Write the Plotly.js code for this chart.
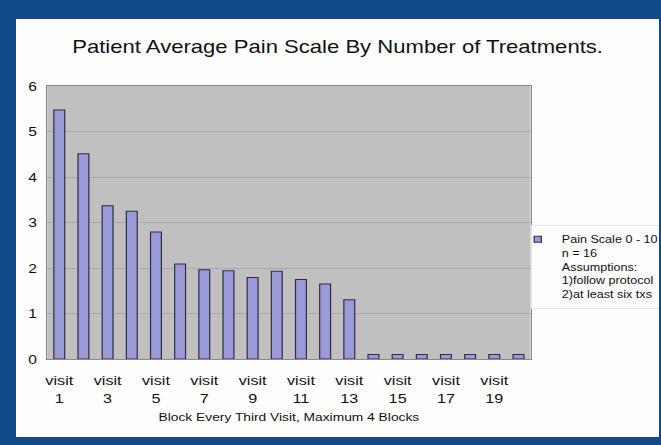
<!DOCTYPE html>
<html><head><meta charset="utf-8">
<script src="https://cdn.plot.ly/plotly-3.0.1.min.js"></script>
<style>
html,body{margin:0;padding:0;background:#114a87;width:661px;height:445px;overflow:hidden;}
#frame{position:absolute;left:16px;top:19px;width:643px;height:418px;background:#fefefe;overflow:hidden;}
#chart{position:absolute;left:0;top:0;width:536px;height:418px;transform:scaleX(1.2);transform-origin:0 0;}
</style></head><body><div id="frame"><div id="chart"></div></div>
<script>
const visits = ['visit 1','visit 2','visit 3','visit 4','visit 5','visit 6','visit 7','visit 8','visit 9','visit 10',
                'visit 11','visit 12','visit 13','visit 14','visit 15','visit 16','visit 17','visit 18','visit 19','visit 20'];
const painScale = [5.47, 4.51, 3.37, 3.25, 2.79, 2.09, 1.96, 1.94, 1.79, 1.93,
                   1.75, 1.65, 1.30, 0.10, 0.10, 0.10, 0.10, 0.10, 0.10, 0.10];
const tickVisits = ['visit 1','visit 3','visit 5','visit 7','visit 9','visit 11','visit 13','visit 15','visit 17','visit 19'];
const tickLabels = ['visit<br>1','visit<br>3','visit<br>5','visit<br>7','visit<br>9','visit<br>11','visit<br>13','visit<br>15','visit<br>17','visit<br>19'];
const yTicks = [0, 1, 2, 3, 4, 5, 6];
const legendLabel = 'Pain Scale 0 - 10<br>n = 16<br>Assumptions:<br>1)follow protocol<br>2)at least six txs';
const chartTitle = 'Patient Average Pain Scale By Number of Treatments.';
const xTitle = 'Block Every Third Visit, Maximum 4 Blocks';

const barColor = '#9a9ad8';
const barLine = '#2e2e40';
const font = 'Arial, "Liberation Sans", Helvetica, sans-serif';

const traces = [
  {type:'bar', x:visits, y:painScale, showlegend:false,
   marker:{color:barColor, line:{color:barLine, width:1}}},
  {type:'scatter', mode:'markers', x:[null], y:[null], name:legendLabel, showlegend:true,
   marker:{symbol:'square', size:6, color:barColor, line:{color:barLine, width:1}}}
];

const layout = {
  width:536, height:418,
  margin:{l:26, r:104, t:67, b:78, pad:0},
  paper_bgcolor:'#fefefe', plot_bgcolor:'#c0c0c0',
  font:{family:font, color:'#111'},
  title:{text:chartTitle, font:{family:font, size:18.4, color:'#111'}, x:0.5, xanchor:'center', xref:'container',
         y:0.933, yanchor:'middle', yref:'container'},
  bargap:0.55,
  xaxis:{type:'category', tickmode:'array', tickvals:tickVisits, ticktext:tickLabels,
         tickfont:{size:13.5, color:'#111'}, showgrid:false, showline:true, linecolor:'#8a8a8a', linewidth:1, mirror:true,
         ticks:'', ticklabelstandoff:9, fixedrange:true,
         title:{text:xTitle, font:{size:11.5, color:'#111'}, standoff:8}},
  yaxis:{range:[0,6], tickmode:'array', tickvals:yTicks, tickfont:{size:13, color:'#111'},
         showgrid:true, gridcolor:'#a9a9a9', gridwidth:1, zeroline:false,
         showline:true, linecolor:'#8a8a8a', linewidth:1, mirror:true, ticks:'', ticklabelstandoff:5, fixedrange:true},
  legend:{xref:'container', yref:'container', x:0.8, xanchor:'left', y:0.5072, yanchor:'top', valign:'top', indentation:-15,
          bgcolor:'rgba(0,0,0,0)', bordercolor:'#e4e4e4', borderwidth:1,
          font:{size:10.5, color:'#111'}, tracegroupgap:0},
  showlegend:true
};

Plotly.newPlot('chart', traces, layout, {displayModeBar:false, staticPlot:true});
</script></body></html>
